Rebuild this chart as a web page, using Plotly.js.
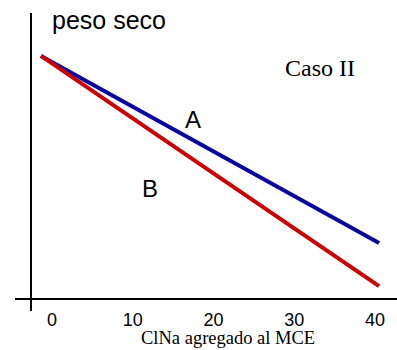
<!DOCTYPE html>
<html>
<head>
<meta charset="utf-8">
<script src="https://cdn.plot.ly/plotly-3.0.1.min.js"></script>
<style>html,body{margin:0;padding:0;background:#fff;}#chart{width:397px;height:350px;}</style>
</head>
<body>
<div id="chart"></div>
<script>
// Data
const xValues = [-1.36, 40.5];
const seriesA = [85, 19.6];   // blue line "A"
const seriesB = [85, 4.5];    // red line "B"
const tickVals = [0, 10, 20, 30, 40];
const tickText = ['0', '10', '20', '30', '40'];

const traces = [
  {x: xValues, y: seriesA, mode: 'lines', line: {color: '#0808a0', width: 4}, hoverinfo: 'skip'},
  {x: xValues, y: seriesB, mode: 'lines', line: {color: '#cc0000', width: 4}, hoverinfo: 'skip'}
];

const layout = {
  width: 397, height: 350,
  margin: {l: 31, r: 0, t: 13, b: 51, pad: 0},
  paper_bgcolor: '#fff', plot_bgcolor: '#fff',
  showlegend: false,
  xaxis: {
    range: [-2.6, 42.72], showgrid: false, zeroline: false, showline: false,
    tickvals: tickVals, ticktext: tickText, ticks: 'outside', ticklen: 4, tickcolor: 'rgba(0,0,0,0)',
    tickfont: {family: 'Liberation Sans, Arial', size: 18, color: '#000'},
    fixedrange: true
  },
  yaxis: {
    range: [0, 100], showgrid: false, zeroline: false, showline: false,
    showticklabels: false, ticks: '', fixedrange: true
  },
  shapes: [
    {type: 'line', xref: 'paper', yref: 'paper', x0: 0, x1: 0, y0: -0.042, y1: 1, line: {color: '#000', width: 2}},
    {type: 'line', xref: 'paper', yref: 'paper', x0: -0.0437, x1: 1, y0: 0, y1: 0, line: {color: '#000', width: 2}}
  ],
  annotations: [
    {text: 'peso seco', xref: 'paper', yref: 'paper', x: 0.213, y: 0.975, xanchor: 'center', yanchor: 'middle', showarrow: false,
     font: {family: 'Liberation Sans, Arial', size: 25, color: '#000'}},
    {text: 'Caso II', xref: 'paper', yref: 'paper', x: 0.79, y: 0.808, xanchor: 'center', yanchor: 'middle', showarrow: false,
     font: {family: 'Liberation Serif, Times New Roman', size: 24, color: '#000'}},
    {text: 'A', xref: 'paper', yref: 'paper', x: 0.443, y: 0.629, xanchor: 'center', yanchor: 'middle', showarrow: false,
     font: {family: 'Liberation Sans, Arial', size: 24, color: '#000'}},
    {text: 'B', xref: 'paper', yref: 'paper', x: 0.3265, y: 0.385, xanchor: 'center', yanchor: 'middle', showarrow: false,
     font: {family: 'Liberation Sans, Arial', size: 24, color: '#000'}},
    {text: 'ClNa agregado al MCE', xref: 'paper', yref: 'paper', x: 0.538, y: -0.138, xanchor: 'center', yanchor: 'middle', showarrow: false,
     font: {family: 'Liberation Serif, Times New Roman', size: 18.5, color: '#000'}}
  ]
};

Plotly.newPlot('chart', traces, layout, {displayModeBar: false, staticPlot: true});
</script>
</body>
</html>
